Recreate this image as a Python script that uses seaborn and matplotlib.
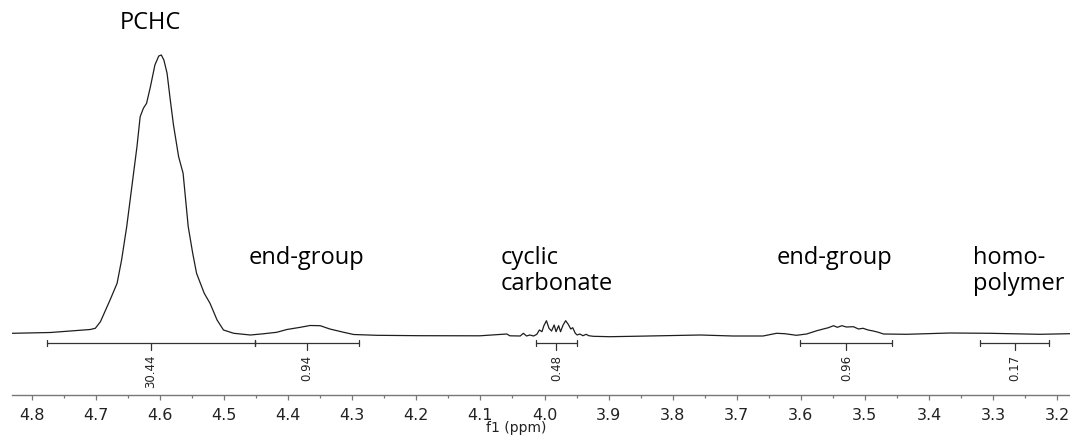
import numpy as np
import pandas as pd
import matplotlib
matplotlib.use("Agg")
import matplotlib.pyplot as plt
import seaborn as sns

# 1H NMR trace (ppm, intensity in arbitrary units)
ppm = [4.831, 4.771, 4.740, 4.709, 4.701, 4.693, 4.678, 4.667, 4.660, 4.652,
       4.644, 4.636, 4.631, 4.626, 4.621, 4.615, 4.608, 4.602, 4.598, 4.594,
       4.589, 4.584, 4.579, 4.571, 4.564, 4.561, 4.556, 4.549, 4.543, 4.531,
       4.522, 4.511, 4.501, 4.485, 4.459, 4.439, 4.418, 4.402, 4.381, 4.366,
       4.350, 4.335, 4.314, 4.298, 4.262, 4.194, 4.101, 4.059, 4.054, 4.038,
       4.033, 4.028, 4.023, 4.017, 4.012, 4.008, 4.004, 4.001, 3.997, 3.993,
       3.989, 3.985, 3.982, 3.978, 3.975, 3.971, 3.967, 3.963, 3.959, 3.956,
       3.952, 3.949, 3.945, 3.940, 3.935, 3.931, 3.924, 3.898, 3.862, 3.757,
       3.706, 3.659, 3.638, 3.625, 3.607, 3.591, 3.575, 3.565, 3.557, 3.549,
       3.543, 3.536, 3.529, 3.518, 3.510, 3.503, 3.495, 3.487, 3.479, 3.471,
       3.435, 3.367, 3.305, 3.227, 3.180]
intensity = [2.7, 3.5, 5.0, 6.5, 7.7, 14.3, 36.0, 52.7, 76.0, 109.3,
             149.3, 189.3, 219.3, 227.7, 232.7, 249.3, 271.0, 280.0, 281.0, 276.0,
             262.7, 236.0, 211.0, 179.3, 162.7, 142.7, 109.3, 82.7, 62.7, 42.7,
             32.7, 16.0, 6.0, 2.7, 1.0, 2.2, 3.7, 6.5, 8.7, 10.5,
             10.3, 7.0, 3.8, 1.5, 0.7, 0.3, 0.2, 2.0, 0.2, 0.0,
             2.7, 0.0, 1.0, 0.0, 1.7, 6.0, 4.3, 10.3, 15.3, 7.7,
             5.0, 11.0, 4.3, 10.3, 4.3, 11.0, 15.3, 11.7, 7.0, 8.3,
             2.7, 1.0, 2.0, 0.3, 1.7, 0.3, -0.3, -0.7, -0.3, 1.0,
             0.0, 0.0, 2.7, 2.3, 0.7, 2.0, 5.3, 7.0, 8.3, 10.3,
             8.7, 10.3, 9.0, 9.3, 7.0, 7.7, 6.0, 5.0, 3.7, 2.0,
             1.7, 3.0, 2.7, 1.7, 2.3]

# integration regions (start, end in ppm) and their values
int_start = [4.777, 4.452, 4.013, 3.601, 3.320]
int_end = [4.452, 4.290, 3.950, 3.457, 3.212]
int_value = ["30.44", "0.94", "0.48", "0.96", "0.17"]

# peak assignments
peak_labels = ["PCHC", "end-group", "cyclic\ncarbonate", "end-group", "homo-\npolymer"]
peak_ppm = [4.615, 4.372, 4.069, 3.547, 3.332]
peak_height = [313, 78, 65, 78, 65]
peak_align = ["center", "center", "left", "center", "left"]

df = pd.DataFrame({"ppm": ppm, "intensity": intensity})

sns.set_style("white")
plt.rcParams["font.family"] = ["DejaVu Sans"]

fig = plt.figure(figsize=(10.70, 4.37), dpi=100)
ax = fig.add_axes([12 / 1070, 42 / 437, 1058 / 1070, 395 / 437])

sns.lineplot(data=df, x="ppm", y="intensity", sort=False, color="#1e1e1e",
             linewidth=0.9, ax=ax)

# integral bars below the trace
bar_y = -7.3
for s, e, v in zip(int_start, int_end, int_value):
    mid = (s + e) / 2
    ax.plot([s, e], [bar_y, bar_y], color="#333333", lw=0.9)
    ax.plot([s, s], [bar_y - 3, bar_y + 3], color="#333333", lw=0.9)
    ax.plot([e, e], [bar_y - 3, bar_y + 3], color="#333333", lw=0.9)
    ax.plot([mid, mid], [bar_y, bar_y - 7], color="#333333", lw=0.9)
    ax.text(mid, -19, v, rotation=90, ha="center", va="top", fontsize=8.5,
            color="#222222")

for lab, x, y, al in zip(peak_labels, peak_ppm, peak_height, peak_align):
    ax.text(x, y, lab, ha=al, va="center", fontsize=17, color="black",
            family=["Open Sans", "DejaVu Sans"], linespacing=1.1)

ticks = np.arange(3.2, 4.85, 0.1)
ax.set_xlim(4.831, 3.180)
ax.set_ylim(-59, 336)
ax.set_xticks(ticks)
ax.set_xticklabels([f"{t:.1f}" for t in ticks])
ax.set_xticks(np.arange(3.25, 4.85, 0.1), minor=True)
ax.set_yticks([])
ax.set_ylabel("")
ax.set_xlabel("f1 (ppm)", fontsize=10, color="#222222")
ax.xaxis.set_label_coords(0.477, -0.066)

for side in ["left", "right", "top"]:
    ax.spines[side].set_visible(False)
ax.spines["bottom"].set_color("#777777")
ax.spines["bottom"].set_linewidth(1.0)
ax.tick_params(axis="x", which="major", direction="out", length=3.3, width=0.9,
               color="#777777", labelsize=11.5, labelcolor="#222222", pad=6,
               bottom=True)
ax.tick_params(axis="x", which="minor", direction="out", length=1.8, width=0.9,
               color="#777777", bottom=True)
ax.set_facecolor("white")

fig.savefig("out.png", dpi=100, facecolor="white")
